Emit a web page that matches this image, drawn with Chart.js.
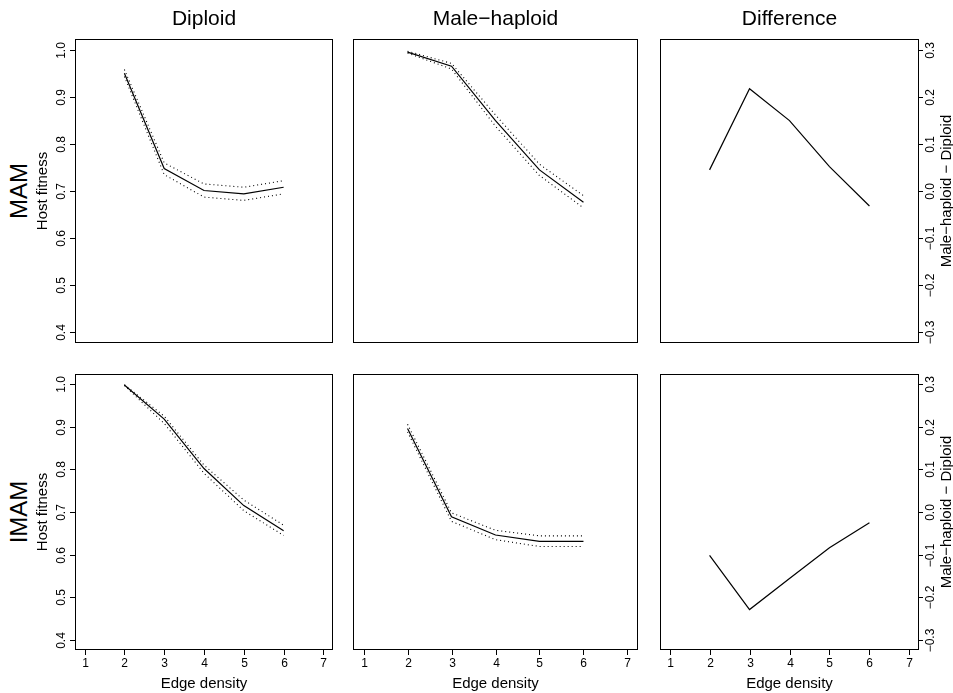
<!DOCTYPE html>
<html lang="en">
    <head>
        <meta charset="UTF-8" />
        <title>Host fitness vs edge density</title>
        <script src="https://cdn.jsdelivr.net/npm/chart.js@4.4.1/dist/chart.umd.min.js"></script>
        <style>
            body { margin: 0; background: #fff; }
            #fig { position: relative; width: 953px; height: 693px; font-family: "Liberation Sans", Arial, sans-serif; color: #000; }
            #fig canvas { position: absolute; }
            .lbl { position: absolute; white-space: nowrap; transform: translate(-50%, -50%); line-height: 1; }
            .rot { transform: translate(-50%, -50%) rotate(-90deg); }
        </style>
    </head>
    <body>
        <div id="fig"></div>
        <script>
            const edgeDensity = [2, 3, 4, 5, 6];
            const xTicks = [1, 2, 3, 4, 5, 6, 7];
            const fitTicks = [0.4, 0.5, 0.6, 0.7, 0.8, 0.9, 1.0];
            const diffTicks = [-0.3, -0.2, -0.1, 0.0, 0.1, 0.2, 0.3];

            // MAM
            const mamDiploid   = [0.951, 0.748, 0.701, 0.694, 0.708];
            const mamDiploidHi = [0.959, 0.760, 0.715, 0.708, 0.722];
            const mamDiploidLo = [0.944, 0.735, 0.687, 0.680, 0.694];
            const mamHaploid   = [0.996, 0.966, 0.850, 0.745, 0.676];
            const mamHaploidHi = [0.998, 0.972, 0.862, 0.757, 0.690];
            const mamHaploidLo = [0.994, 0.960, 0.838, 0.733, 0.664];
            const mamDiff      = [0.045, 0.218, 0.150, 0.052, -0.032];

            // IMAM
            const imamDiploid   = [0.998, 0.918, 0.802, 0.715, 0.656];
            const imamDiploidHi = [0.999, 0.925, 0.810, 0.728, 0.669];
            const imamDiploidLo = [0.997, 0.908, 0.791, 0.703, 0.645];
            const imamHaploid   = [0.896, 0.689, 0.646, 0.631, 0.631];
            const imamHaploidHi = [0.906, 0.698, 0.657, 0.644, 0.644];
            const imamHaploidLo = [0.888, 0.678, 0.635, 0.619, 0.619];
            const imamDiff      = [-0.102, -0.229, -0.156, -0.084, -0.025];

            const cols = [[75, 333], [353, 638], [660, 919]];
            const rows = [[39, 343], [374, 650]];
            const M = 30;
            const FONT = '"Liberation Sans", Arial, sans-serif';
            const fig = document.getElementById("fig");

            // box, tick marks and tick labels in R's base style
            const frame = {
                id: 'frame',
                afterDraw(chart, args, opts) {
                    const {ctx, chartArea: a, scales: {x, y}} = chart;
                    ctx.save();
                    ctx.strokeStyle = '#000';
                    ctx.fillStyle = '#000';
                    ctx.lineWidth = 1;
                    ctx.strokeRect(a.left + 0.5, a.top + 0.5, a.right - a.left - 1, a.bottom - a.top - 1);
                    ctx.font = '12px ' + FONT;

                    if (opts.xAxis) {
                        ctx.textAlign = 'center';
                        ctx.textBaseline = 'alphabetic';
                        xTicks.forEach(v => {
                            const px = Math.round(x.getPixelForValue(v)) + 0.5;
                            ctx.beginPath();
                            ctx.moveTo(px, a.bottom);
                            ctx.lineTo(px, a.bottom + 5);
                            ctx.stroke();
                            ctx.fillText(String(v), px, a.bottom + 17);
                        });
                    }
                    if (opts.yAxis) {
                        const left = opts.yAxis === 'left';
                        opts.yTicks.forEach(v => {
                            const py = Math.round(y.getPixelForValue(v)) + 0.5;
                            const edge = left ? a.left : a.right - 1;
                            ctx.beginPath();
                            ctx.moveTo(edge, py);
                            ctx.lineTo(left ? edge - 5 : edge + 5, py);
                            ctx.stroke();
                            const txt = v.toFixed(1).replace('-', '\u2212');
                            ctx.save();
                            ctx.translate(left ? a.left - 10 : a.right + 15, py);
                            ctx.rotate(-Math.PI / 2);
                            ctx.textAlign = 'center';
                            ctx.textBaseline = 'alphabetic';
                            ctx.fillText(txt, 0, 0);
                            ctx.restore();
                        });
                    }
                    ctx.restore();
                }
            };

            function pts(ys) {
                return edgeDensity.map((x, i) => ({x: x, y: ys[i]}));
            }

            function series(ys, dotted) {
                return {
                    data: pts(ys),
                    borderColor: '#000',
                    borderWidth: dotted ? 1.1 : 1.2,
                    borderDash: dotted ? [1, 3] : [],
                    pointRadius: 0,
                    tension: 0,
                    fill: false
                };
            }

            function panel(col, row, datasets, yMin, yMax, frameOpts) {
                const [x0, x1] = cols[col];
                const [y0, y1] = rows[row];
                const cv = document.createElement("canvas");
                const w = x1 - x0 + 2 * M;
                const h = y1 - y0 + 2 * M;
                cv.width = w;
                cv.height = h;
                cv.style.left = (x0 - M) + "px";
                cv.style.top = (y0 - M) + "px";
                fig.appendChild(cv);

                new Chart(cv.getContext("2d"), {
                    type: 'line',
                    data: {datasets: datasets},
                    options: {
                        responsive: false,
                        animation: false,
                        devicePixelRatio: 1,
                        layout: {padding: M},
                        plugins: {
                            legend: {display: false},
                            tooltip: {enabled: false},
                            frame: frameOpts
                        },
                        scales: {
                            x: {type: 'linear', min: 0.76, max: 7.24, display: false},
                            y: {type: 'linear', min: yMin, max: yMax, display: false}
                        }
                    },
                    plugins: [frame]
                });
            }

            function label(text, cx, cy, size, rotated) {
                const d = document.createElement("div");
                d.className = "lbl" + (rotated ? " rot" : "");
                d.style.left = cx + "px";
                d.style.top = cy + "px";
                d.style.fontSize = size + "px";
                d.textContent = text;
                fig.appendChild(d);
            }

            const fitLo = 0.376, fitHi = 1.024;
            const difLo = -0.324, difHi = 0.324;

            // top row: MAM
            panel(0, 0, [series(mamDiploid), series(mamDiploidHi, true), series(mamDiploidLo, true)],
                fitLo, fitHi, {yAxis: 'left', yTicks: fitTicks});
            panel(1, 0, [series(mamHaploid), series(mamHaploidHi, true), series(mamHaploidLo, true)],
                fitLo, fitHi, {});
            panel(2, 0, [series(mamDiff)], difLo, difHi, {yAxis: 'right', yTicks: diffTicks});

            // bottom row: IMAM
            panel(0, 1, [series(imamDiploid), series(imamDiploidHi, true), series(imamDiploidLo, true)],
                fitLo, fitHi, {yAxis: 'left', yTicks: fitTicks, xAxis: true});
            panel(1, 1, [series(imamHaploid), series(imamHaploidHi, true), series(imamHaploidLo, true)],
                fitLo, fitHi, {xAxis: true});
            panel(2, 1, [series(imamDiff)], difLo, difHi, {yAxis: 'right', yTicks: diffTicks, xAxis: true});

            const colTitles = ["Diploid", "Male\u2212haploid", "Difference"];
            colTitles.forEach((t, i) => label(t, (cols[i][0] + cols[i][1]) / 2, 17, 21, false));

            const rowTitles = ["MAM", "IMAM"];
            rowTitles.forEach((t, i) => {
                const cy = (rows[i][0] + rows[i][1]) / 2;
                label(t, 19, cy, 24, true);
                label("Host fitness", 41, cy, 15, true);
                label("Male\u2212haploid \u2212 Diploid", 945, cy, 15, true);
            });

            cols.forEach(c => label("Edge density", (c[0] + c[1]) / 2, 682, 15, false));
        </script>
    </body>
</html>
